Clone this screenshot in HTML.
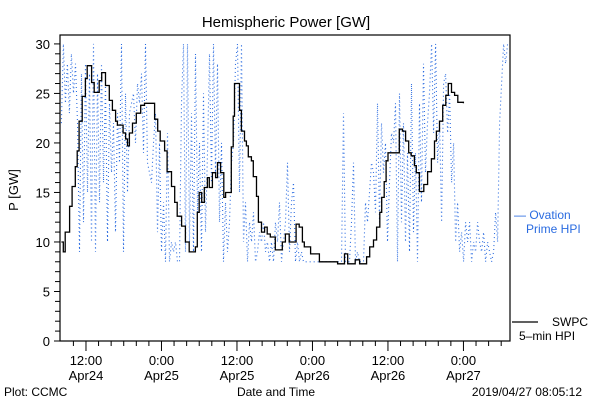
<!DOCTYPE html>
<html><head><meta charset="utf-8"><style>
html,body{margin:0;padding:0;background:#fff;}
svg{display:block;font-family:"Liberation Sans",sans-serif;}
</style></head><body>
<svg id="chart" width="600" height="400" viewBox="0 0 600 400">
<text x="286" y="27" font-size="15" text-anchor="middle">Hemispheric Power [GW]</text>
<text transform="translate(18,190) rotate(-90)" font-size="13" text-anchor="middle">P [GW]</text>
<g id="yaxis"></g>
<g id="xaxis"></g>
<g id="series"></g>
<rect x="60" y="35" width="450" height="306" fill="none" stroke="#000" stroke-width="1.2"/>
<text x="514" y="219" font-size="12" fill="#2a6be0">— Ovation</text>
<text x="526" y="233" font-size="12" fill="#2a6be0">Prime HPI</text>
<line x1="512" y1="322" x2="538" y2="322" stroke="#000" stroke-width="1.2"/>
<text x="552" y="326" font-size="12">SWPC</text>
<text x="519" y="340" font-size="12">5–min HPI</text>
<text x="4" y="396" font-size="12">Plot: CCMC</text>
<text x="276" y="396" font-size="12" text-anchor="middle">Date and Time</text>
<text x="582" y="396" font-size="12" text-anchor="end">2019/04/27 08:05:12</text>
</svg>
<script>
// hours since 0:00 Apr24
const swpcTimes=[8.1,8.4,8.7,9.4,9.8,10.3,10.6,10.9,11.4,11.9,12.2,12.7,12.9,13.3,14.1,14.5,15.1,15.7,16.2,16.7,17.0,17.6,17.9,18.3,18.6,18.9,19.4,20.0,20.7,21.3,22.4,22.9,23.4,23.8,24.5,24.9,25.6,26.1,26.5,27.2,27.8,28.4,28.9,29.4,29.7,30.0,30.4,30.8,31.3,31.6,32.1,32.6,32.9,33.4,33.9,34.2,34.6,35.1,35.4,35.6,36.1,36.4,36.7,37.2,37.5,37.8,38.3,38.6,39.1,39.4,39.9,40.4,40.8,41.3,42.1,42.7,43.2,43.7,44.3,44.9,45.4,45.9,46.4,46.7,47.7,48.5,49.1,51.5,52.0,52.6,53.1,53.6,54.2,54.8,55.5,56.3,56.6,57.1,57.7,58.2,58.7,59.0,59.4,59.7,60.0,61.1,61.8,62.3,62.8,63.3,63.7,64.2,64.5,65.0,65.7,66.3,66.9,67.4,67.7,68.2,68.7,69.2,69.6,70.1,70.6,71.1,72.0];
const swpcValues=[10,9,11,13.6,15.6,17.6,19.2,22.2,24.7,26.5,27.8,27.8,26.1,25.1,26.3,27.1,25.8,24.3,23.3,22.2,21.8,21.8,21,20.4,19.7,21,22,23,23.8,24,24,22.4,21.2,20.2,19.2,17.1,15.6,14,12.6,11.6,10,9,9,9.5,13,15,14,15.5,16.5,15.5,17,16.5,18,17,14.5,15,15,19.6,22.7,26,26,23.3,21.2,20.2,19.7,18.6,18.2,16.6,14.6,12,11,11.5,10.8,10.5,9.2,9.2,10,10.8,10,10,11.8,11.5,10,9.5,8.8,8.8,8,8,7.8,7.8,8.8,7.8,7.8,8.2,7.8,7.8,8.5,9.5,10.2,11.5,13,14.5,16.1,18.2,19,19,21.4,21.2,20.2,19,18.7,17.7,17,15.1,15.8,17.1,18.4,20.2,21.2,22.2,23.8,24.8,26,25.1,24.8,24.1,24];
const hpiStart=8.1;
const hpiStepHours=0.318;
const hpiValues=[22,30,24,28,23,29,25,28,22,9,27,12,28,15,27,10,30,9,27,14,28,16,26,10,24,17,22,11,23,18,30,9,25,15,23,24,25,20,26,24,27,19,30,18,17,16,20,23,11,20,9,14,8,21,8,10,9,10,8,8,24,30,9,30,10,23,9,29,13,20,9,25,11,19,29,16,30,17,28,12,20,8,14,9,12,18,20,28,30,15,30,10,14,8,12,10,13,8,9,11,10,12,9,10,8,10,8,12,10,14,8,10,12,18,9,14,16,8,10,8,9,8,8,8,8,8,8,8,8,8,8,8,8,8,8,8,8,8,8,8,8,23,8,8,8,12,18,8,9,8,8,8,14,12,15,18,17,13,24,12,22,17,20,10,16,21,20,24,8,25,12,22,10,19,9,26,11,19,8,24,14,28,17,22,25,30,21,30,18,22,12,26,27,21,25,16,20,10,14,9,11,8,12,10,12,8,10,9,12,10,9,11,8,10,9,8,9,13,10,22,26,30,28,30];
const yTickLabels=["0","5","10","15","20","25","30"];
const yTickValues=[0,5,10,15,20,25,30];
const xTickHours=[12,24,36,48,60,72];
const xTickTime=["12:00","0:00","12:00","0:00","12:00","0:00"];
const xTickDate=["Apr24","Apr25","Apr25","Apr26","Apr26","Apr27"];

const NS="http://www.w3.org/2000/svg";
const L=60,R=510,T=35,B=341,h0=7.87,h1=79.4,yMax=30.9;
function xs(h){return L+(h-h0)/(h1-h0)*(R-L);}
function ys(v){return B-Math.min(v,yMax)/yMax*(B-T);}
function mk(tag,attrs,parent){const e=document.createElementNS(NS,tag);for(const k in attrs)e.setAttribute(k,attrs[k]);parent.appendChild(e);return e;}
const ya=document.getElementById('yaxis'),xa=document.getElementById('xaxis'),sg=document.getElementById('series');
for(let v=0;v<=30;v++){
  const t=mk('line',{x1:L-(v%5===0?6:5),x2:L,y1:ys(v),y2:ys(v),stroke:'#000'},ya);
  
  
}
yTickValues.forEach((v,i)=>{
  const t=mk('text',{x:L-10,y:ys(v)+5,'font-size':13,'text-anchor':'end'},ya);
  t.textContent=yTickLabels[i];
  
  
});
for(let h=10;h<=78;h+=2){
  const major=(h%12===0);
  const t=mk('line',{x1:xs(h),x2:xs(h),y1:B,y2:B+(major?10:5),stroke:'#000'},xa);
  
  
}
xTickHours.forEach((h,i)=>{
  const a=mk('text',{x:xs(h),y:365,'font-size':13,'text-anchor':'middle'},xa);
  a.textContent=xTickTime[i];
  
  
  const b=mk('text',{x:xs(h),y:380,'font-size':13,'text-anchor':'middle'},xa);
  b.textContent=xTickDate[i];
  
  
});
let bp=hpiValues.map((v,i)=>xs(hpiStart+i*hpiStepHours).toFixed(1)+','+ys(v).toFixed(1)).join(' ');
const hpi=mk('polyline',{points:bp,fill:'none',stroke:'#2a6be0','stroke-width':1.1,'stroke-dasharray':'1,3'},sg);


let pts=[];
swpcTimes.forEach((h,i)=>{
  const x=xs(h).toFixed(1),y=ys(swpcValues[i]).toFixed(1);
  if(i>0)pts.push(x+','+ys(swpcValues[i-1]).toFixed(1));
  pts.push(x+','+y);
});
const sw=mk('polyline',{points:pts.join(' '),fill:'none',stroke:'#000','stroke-width':1.3},sg);


</script>
</body></html>
